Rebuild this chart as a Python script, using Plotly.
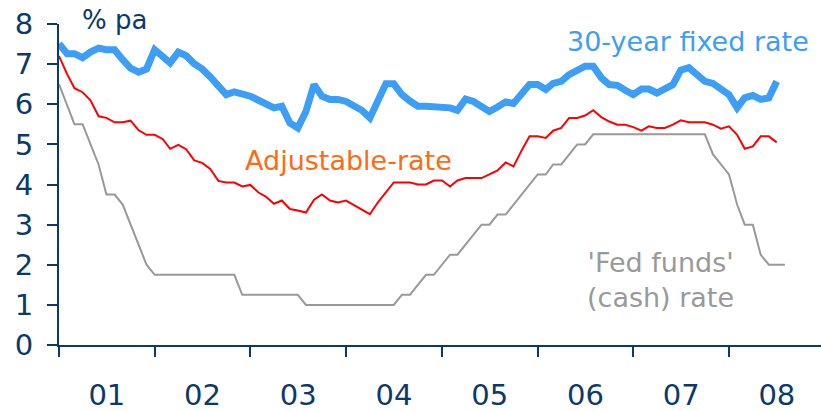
import pandas as pd
import plotly.graph_objects as go

# Monthly data, Jan 2001 onward
start_month = "2001-01-01"

fixed_30y = [7.51, 7.26, 7.26, 7.16, 7.30, 7.40, 7.36, 7.36, 7.11, 6.90, 6.80, 6.88,
             7.36, 7.20, 7.03, 7.30, 7.21, 7.01, 6.88, 6.68, 6.45, 6.24, 6.31, 6.26,
             6.20, 6.10, 5.99, 5.91, 5.95, 5.53, 5.41, 5.82, 6.49, 6.20, 6.12, 6.12,
             6.07, 5.95, 5.85, 5.66, 6.12, 6.51, 6.51, 6.24, 6.08, 5.95, 5.95, 5.95,
             5.95, 5.91, 5.85, 6.13, 6.07, 5.95, 5.82, 5.93, 6.06, 6.02, 6.28, 6.49,
             6.49, 6.37, 6.52, 6.57, 6.74, 6.85, 6.95, 6.95, 6.66, 6.49, 6.47, 6.35,
             6.24, 6.38, 6.38, 6.28, 6.38, 6.49, 6.85, 6.91, 6.74, 6.57, 6.52, 6.37,
             6.24, 5.91, 6.16, 6.22, 6.12, 6.16, 6.57, None]

adjustable = [7.20, 6.75, 6.40, 6.30, 6.10, 5.70, 5.66, 5.55, 5.55, 5.59, 5.35, 5.24,
              5.24, 5.13, 4.89, 4.99, 4.88, 4.60, 4.54, 4.39, 4.09, 4.05, 4.05, 3.95,
              3.99, 3.80, 3.70, 3.52, 3.60, 3.39, 3.35, 3.30, 3.62, 3.75, 3.60, 3.55,
              3.60, 3.49, 3.39, 3.26, 3.55, 3.80, 4.05, 4.05, 4.05, 4.00, 4.00, 4.10,
              4.10, 3.95, 4.10, 4.16, 4.16, 4.16, 4.25, 4.35, 4.55, 4.45, 4.85, 5.20,
              5.20, 5.16, 5.34, 5.41, 5.66, 5.66, 5.72, 5.85, 5.68, 5.57, 5.49, 5.49,
              5.43, 5.34, 5.45, 5.41, 5.41, 5.49, 5.60, 5.55, 5.55, 5.55, 5.49, 5.39,
              5.45, 5.24, 4.89, 4.95, 5.20, 5.20, 5.05, None]

fed_funds = [6.50, 6.00, 5.50, 5.50, 5.00, 4.50, 3.75, 3.75, 3.50, 3.00, 2.50, 2.00,
             1.75, 1.75, 1.75, 1.75, 1.75, 1.75, 1.75, 1.75, 1.75, 1.75, 1.75, 1.25,
             1.25, 1.25, 1.25, 1.25, 1.25, 1.25, 1.25, 1.00, 1.00, 1.00, 1.00, 1.00,
             1.00, 1.00, 1.00, 1.00, 1.00, 1.00, 1.00, 1.25, 1.25, 1.50, 1.75, 1.75,
             2.00, 2.25, 2.25, 2.50, 2.75, 3.00, 3.00, 3.25, 3.25, 3.50, 3.75, 4.00,
             4.25, 4.25, 4.50, 4.50, 4.75, 5.00, 5.00, 5.25, 5.25, 5.25, 5.25, 5.25,
             5.25, 5.25, 5.25, 5.25, 5.25, 5.25, 5.25, 5.25, 5.25, 5.25, 4.75, 4.50,
             4.25, 3.50, 3.00, 3.00, 2.25, 2.00, 2.00, 2.00]

y_ticks = [0, 1, 2, 3, 4, 5, 6, 7, 8]

dates = pd.date_range(start_month, periods=len(fed_funds), freq="MS")

NAVY = "#0b3a6a"
FONT = "Verdana, DejaVu Sans, sans-serif"

fig = go.Figure()
fig.add_trace(go.Scatter(x=dates, y=fed_funds, mode="lines",
                         line=dict(color="#999999", width=2), hoverinfo="skip"))
fig.add_trace(go.Scatter(x=dates, y=adjustable, mode="lines",
                         line=dict(color="#ff0000", width=2), hoverinfo="skip"))
fig.add_trace(go.Scatter(x=dates, y=fixed_30y, mode="lines",
                         line=dict(color="#3d9ef7", width=7), hoverinfo="skip"))

fig.update_layout(
    width=821, height=411,
    margin=dict(l=59, r=0, t=24, b=66),
    paper_bgcolor="white", plot_bgcolor="white",
    showlegend=False,
    font=dict(family=FONT, color=NAVY),
    xaxis=dict(
        type="date", automargin=False,
        range=["2001-01-01", "2008-12-17"],
        tick0="2001-01-01", dtick="M12",
        tickformat="%y", ticklabelmode="period",
        ticks="outside", ticklen=10, tickwidth=2, tickcolor=NAVY,
        showline=True, linecolor=NAVY, linewidth=2,
        showgrid=False, zeroline=False,
        tickfont=dict(size=29, color=NAVY, family=FONT),
        ticklabelstandoff=13,
    ),
    yaxis=dict(
        range=[0, 8], tickvals=y_ticks, automargin=False,
        ticks="outside", ticklen=10, tickwidth=2, tickcolor=NAVY,
        showline=True, linecolor=NAVY, linewidth=2,
        showgrid=False, zeroline=False,
        tickfont=dict(size=29, color=NAVY, family=FONT),
        ticklabelstandoff=8,
    ),
)

ann = [
    dict(text="% pa", x=0.027, y=1.012, xanchor="left", yanchor="middle",
         font=dict(size=26, color=NAVY, family=FONT)),
    dict(text="30-year fixed rate", x=0.825, y=0.944, xanchor="center", yanchor="middle",
         font=dict(size=27, color="#3d9ef7", family=FONT)),
    dict(text="Adjustable-rate", x=0.380, y=0.576, xanchor="center", yanchor="middle",
         font=dict(size=27, color="#ff6a13", family=FONT)),
    dict(text="'Fed funds'<br>(cash) rate", x=0.789, y=0.2025, xanchor="center", yanchor="middle",
         font=dict(size=27, color="#999999", family=FONT)),
]
for a in ann:
    fig.add_annotation(xref="paper", yref="paper", showarrow=False, **a)

fig.write_html("out.html", config={"displayModeBar": False},
               post_script="document.body.style.margin='0';document.body.style.padding='0';")
